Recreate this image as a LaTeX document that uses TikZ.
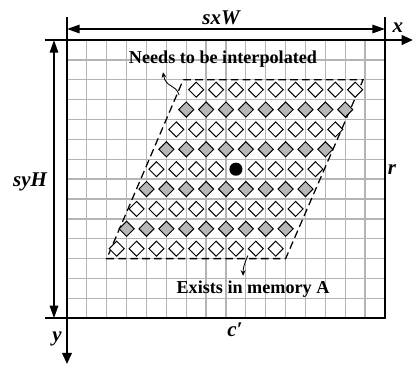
\documentclass[tikz,border=0pt]{standalone}
\usepackage{fontspec}
\setmainfont{Liberation Serif}
\usetikzlibrary{arrows.meta,positioning,shapes.geometric}
\definecolor{gridgray}{RGB}{180,180,180}
\definecolor{cellgray}{RGB}{183,183,183}

\tikzset{
  gridline/.style={gridgray,line width=0.9pt},
  frame/.style={line width=1.4pt},
  axis/.style={line width=1.3pt,-{Triangle[length=8pt,width=7pt]}},
  dimline/.style={line width=1.2pt,{Triangle[length=9pt,width=6pt]}-{Triangle[length=9pt,width=6pt]}},
  cellw/.style={diamond,draw,line width=0.7pt,fill=white,minimum size=0.39cm,inner sep=0pt,aspect=1},
  cellg/.style={cellw,fill=cellgray},
  centre/.style={circle,fill=black,minimum size=0.33cm,inner sep=0pt},
  region/.style={line width=0.9pt,dash pattern=on 5.5pt off 3pt},
  note/.style={font=\fontsize{13}{15}\selectfont\bfseries},
  mlabel/.style={font=\fontsize{15}{17}\selectfont\bfseries\itshape},
  pointer/.style={line width=0.6pt,-{Stealth[length=4pt,width=3.5pt]}},
}

\begin{document}
\begin{tikzpicture}[x=0.5cm,y=-0.5cm]
  \useasboundingbox (-3.371,-2.013) rectangle (17.46,16.35);
  % grid of memory cells
  \foreach \i in {1,...,15} \draw[gridline] (\i,0) -- (\i,14);
  \foreach \j in {1,...,13} \draw[gridline] (0,\j) -- (16,\j);

  % rotated window
  \coordinate (tl) at (5.85,2);
  \coordinate (tr) at (14.9,2);
  \coordinate (br) at (11,11);
  \coordinate (bl) at (2,11);
  \draw[region] (tl) -- (tr) -- (br) -- (bl) -- cycle;

  \foreach \r in {0,...,8}
    \foreach \c in {0,...,8} {
      \pgfmathsetmacro\cx{6.5-0.5*\r+\c}
      \ifodd\r \def\kind{cellg}\else \def\kind{cellw}\fi
      \ifnum\r\c=44 \node[centre] (dot) at (\cx,\r+2.5) {};
      \else \node[\kind] (d\r\c) at (\cx,\r+2.5) {};\fi
    }

  % frame and axes
  \draw[frame] (0,0) rectangle (16,14);
  \draw[frame] (-1.107,14) -- (16,14);
  \draw[frame] (16,-1.157) -- (16,0);
  \draw[axis] (-1.107,0) -- (17.4,0);
  \draw[axis] (0,-1.157) -- (0,16.3);
  \draw[dimline] (0,-0.553) -- (16,-0.553);
  \draw[dimline] (-0.654,0) -- (-0.654,14);

  \node[mlabel] (lblW) at (7.75,-1.107) {sxW};
  \node[mlabel] (lblx) at (16.65,-0.6) {x};
  \node[mlabel] (lblH) at (-1.86,7.14) {syH};
  \node[mlabel] (lblr) at (16.35,6.5) {r};
  \node[mlabel] (lblc) at (8.45,14.6) {c′};
  \node[mlabel] (lbly) at (-0.5,15.05) {y};

  % notes
  \node[note] (interp) at (7.85,0.96) {Needs to be interpolated};
  \node[note] (memA) at (9.36,12.53) {Exists in memory A};
  \coordinate (interpfrom) at (5.64,2.77);
  \coordinate (memfrom) at (9.1,10.85);
  \draw[pointer] (interpfrom) .. controls (5.48,2.21) and (4.98,2.42) .. ([xshift=-1.51cm]interp.south);
  \draw[pointer] (memfrom) .. controls (8.9,11.3) and (8.86,11.5) .. ([xshift=-0.25cm]memA.north);
\end{tikzpicture}
\end{document}
